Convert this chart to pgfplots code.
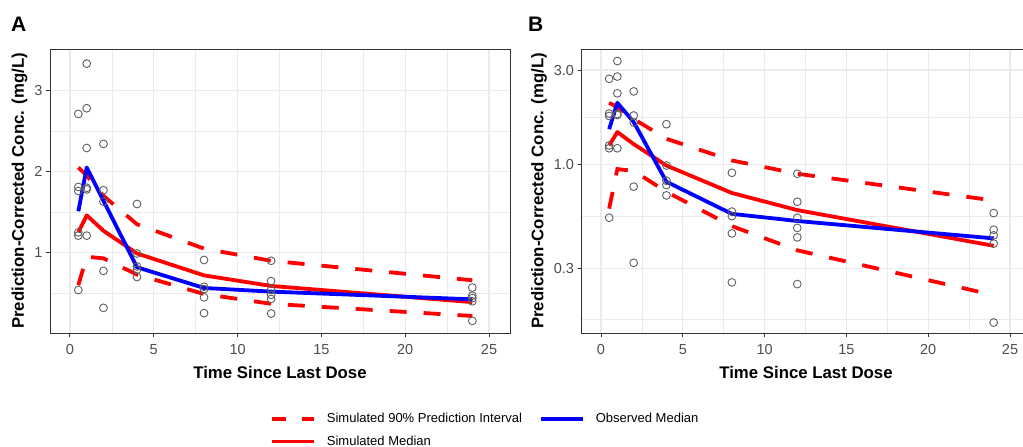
\documentclass[border=0pt]{standalone}
\usepackage{fontspec}
\setmainfont{Liberation Sans}
\usepackage{pgfplots}
\usepackage{pgfplotstable}
\pgfplotsset{compat=1.18}

\definecolor{grey20}{RGB}{51,51,51}
\definecolor{grey30}{RGB}{77,77,77}
\definecolor{grey92}{RGB}{235,235,235}
\definecolor{ptgrey}{RGB}{95,95,95}

% observed prediction-corrected concentrations
\pgfplotstableread{
t conc
0.5 2.71
0.5 1.81
0.5 1.76
0.5 1.25
0.5 1.21
0.5 0.54
1 3.33
1 2.78
1 2.29
1 1.80
1 1.78
1 1.21
2 2.34
2 1.77
2 1.63
2 0.775
2 0.32
4 1.60
4 0.99
4 0.83
4 0.79
4 0.70
8 0.91
8 0.58
8 0.55
8 0.45
8 0.255
12 0.90
12 0.65
12 0.54
12 0.48
12 0.43
12 0.25
24 0.57
24 0.47
24 0.44
24 0.40
24 0.16
}\obsdata

% t, simulated 5th/50th/95th percentiles, observed median
\pgfplotstableread{
t lo med hi obs
0.5 0.60 1.25 2.05 1.51
1 0.95 1.46 1.95 2.05
2 0.93 1.27 1.70 1.64
4 0.73 0.99 1.35 0.82
8 0.49 0.72 1.05 0.565
12 0.37 0.59 0.90 0.52
24 0.22 0.39 0.66 0.425
}\vpc

\pgfplotsset{
  vpc/.style={
    scale only axis,
    height=284pt,
    xmin=-1.19, xmax=26.25,
    xtick={0,5,...,25},
    minor xtick={2.5,7.5,...,22.5},
    tick align=outside,
    tick pos=left,
    major tick length=4pt,
    minor tick length=0pt,
    xmajorgrids, xminorgrids, ymajorgrids, yminorgrids,
    major grid style={grey92, line width=1.3pt},
    minor grid style={grey92, line width=0.65pt},
    axis line style={grey20, line width=0.9pt},
    tick style={grey20, line width=0.9pt},
    tick label style={font=\fontsize{14.5}{16}\selectfont, text=grey30},
    xticklabel style={yshift=-4pt},
    /pgf/number format/assume math mode=true,
    label style={font=\bfseries\fontsize{16.8}{19}\selectfont},
    xlabel style={yshift=-5pt},
    xlabel={Time Since Last Dose},
    ylabel={Prediction-Corrected Conc. (mg/L)},
    legend image code/.code={\draw (0pt,0pt) -- (42pt,0pt);},
  },
  pi/.style={red, line width=3.8pt, dash pattern=on 17pt off 17pt},
  med/.style={red, line width=3.8pt, line join=round},
  obs/.style={blue, line width=3.8pt, line join=round},
  pts/.style={only marks, mark=o, mark size=3.9pt, ptgrey, mark options={line width=0.9pt}},
}

\begin{document}
\begin{tikzpicture}
\useasboundingbox (0,0) rectangle (1023pt,447pt);

\begin{axis}[
  vpc,
  at={(50pt,114pt)}, anchor=south west,
  width=460pt,
  ymin=0.01, ymax=3.51,
  ytick={1,2,3},
  minor ytick={0.5,1.5,2.5,3.5},
  legend columns=2,
  legend cell align=left,
  legend style={
    at={(0.4715,-0.2676)}, anchor=north west,
    draw=none, fill=none,
    font=\fontsize{13}{15}\selectfont,
    /tikz/every odd column/.append style={column sep=9pt},
    /tikz/every even column/.append style={column sep=15pt},
    row sep=8pt,
  },
]
\addplot [pi, legend image code/.code={\draw[dash pattern=on 14pt off 16pt] (0pt,0pt) -- (42pt,0pt);}] table [x=t, y=hi] {\vpc};
\addlegendentry{Simulated 90\% Prediction Interval}
\addplot [pi, forget plot] table [x=t, y=lo] {\vpc};
\addlegendimage{obs}
\addlegendentry{Observed Median}
\addplot [med] table [x=t, y=med] {\vpc};
\addlegendentry{Simulated Median}
\addplot [obs, forget plot] table [x=t, y=obs] {\vpc};
\addplot [pts, forget plot] table [x=t, y=conc] {\obsdata};
\end{axis}

\begin{axis}[
  vpc,
  at={(581.5pt,114pt)}, anchor=south west,
  width=449pt,
  ymode=log,
  ymin=0.1417, ymax=3.83,
  ytick={0.3,1,3},
  yticklabels={0.3,1.0,3.0},
  minor ytick={0.166,0.5477,1.732},
]
\addplot [pi] table [x=t, y=hi] {\vpc};
\addplot [pi] table [x=t, y=lo] {\vpc};
\addplot [med] table [x=t, y=med] {\vpc};
\addplot [obs] table [x=t, y=obs] {\vpc};
\addplot [pts] table [x=t, y=conc] {\obsdata};
\end{axis}

\node[anchor=base west, inner sep=0, font=\bfseries\fontsize{21}{24}\selectfont] at (11pt,415.5pt) {A};
\node[anchor=base west, inner sep=0, font=\bfseries\fontsize{21}{24}\selectfont] at (528pt,415.5pt) {B};
\end{tikzpicture}
\end{document}
